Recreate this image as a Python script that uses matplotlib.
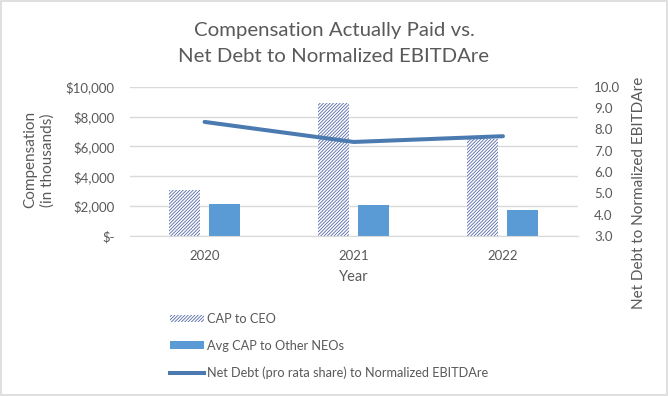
import matplotlib.pyplot as plt
import numpy as np
from matplotlib.patches import Rectangle, Patch
from matplotlib.lines import Line2D

plt.rcParams["font.family"] = "Lato"
plt.rcParams["hatch.linewidth"] = 0.6

years = ["2020", "2021", "2022"]
cap_ceo = [3050, 8930, 6530]
cap_neos = [2160, 2110, 1750]
net_debt = [8.35, 7.41, 7.68]

gray_text = "#595959"
grid_col = "#D9D9D9"
hatch_col = "#5468A8"
hatch = "/" * 10

fig = plt.figure(figsize=(6.68, 3.96), dpi=100)
ax = fig.add_axes([0.1946, 0.404, 0.670, 0.377])
ax2 = ax.twinx()

x = np.arange(len(years))
width = 0.208
offset = 0.134

# CEO bars - white with fine diagonal hatch
ax.bar(x - offset, cap_ceo, width, facecolor="white", edgecolor=hatch_col,
       linewidth=0, hatch=hatch, zorder=2)
ax.bar(x + offset, cap_neos, width, color="#5B9BD5", zorder=2)

ax2.plot(x, net_debt, color="#4A7AB0", linewidth=2.9, solid_capstyle="round", zorder=3)

ax.set_xlim(-0.5, 2.5)
ax.set_ylim(0, 10000)
ax.set_yticks(range(0, 10001, 2000))
ax.set_yticklabels(["$-" if v == 0 else "${:,}".format(v) for v in range(0, 10001, 2000)])
ax2.set_ylim(3, 10)
ax2.set_yticks(np.arange(3, 10.5, 1))
ax2.set_yticklabels(["{:.1f}".format(v) for v in np.arange(3, 10.5, 1)])

ax.set_xticks(x)
ax.set_xticklabels(years)

ax.yaxis.grid(True, color=grid_col, linewidth=1)
ax.set_axisbelow(True)
for a in (ax, ax2):
    for s in a.spines.values():
        s.set_visible(False)
    a.tick_params(length=0, colors=gray_text, labelsize=9.5)
ax.spines["bottom"].set_visible(True)
ax.spines["bottom"].set_color(grid_col)
ax.tick_params(axis="y", pad=11)
ax2.tick_params(axis="y", pad=12)
ax.tick_params(axis="x", pad=10)

ax.set_xlabel("Year", color=gray_text, fontsize=10.5, labelpad=6)
ax.set_ylabel("Compensation\n(in thousands)", color=gray_text, fontsize=11)
ax.yaxis.set_label_coords(-0.169, 0.51)
ax2.set_ylabel("Net Debt to Normalized EBITDAre", color=gray_text, fontsize=11)
ax2.yaxis.set_label_coords(1.122, 0.29)

fig.text(0.5, 0.909, "Compensation Actually Paid vs.", ha="center", va="baseline",
         fontsize=14.7, color=gray_text)
fig.text(0.5, 0.843, "Net Debt to Normalized EBITDAre", ha="center", va="baseline",
         fontsize=14.7, color=gray_text)

handles = [
    Patch(facecolor="white", edgecolor=hatch_col, linewidth=0, hatch=hatch),
    Patch(facecolor="#5B9BD5"),
    Line2D([], [], color="#4A7AB0", linewidth=2.9),
]
labels = ["CAP to CEO", "Avg CAP to Other NEOs",
          "Net Debt (pro rata share) to Normalized EBITDAre"]
fig.legend(handles, labels, loc="upper left", bbox_to_anchor=(0.255, 0.21),
           frameon=False, fontsize=9.2, labelcolor=gray_text, labelspacing=1.15,
           handlelength=2.6, handleheight=0.5, handletextpad=0.3,
           borderaxespad=0, borderpad=0)

fig.patches.append(Rectangle((0.002, 0.003), 0.996, 0.994, transform=fig.transFigure,
                             fill=False, edgecolor=grid_col, linewidth=1.2))

fig.savefig("out.png", dpi=100)
